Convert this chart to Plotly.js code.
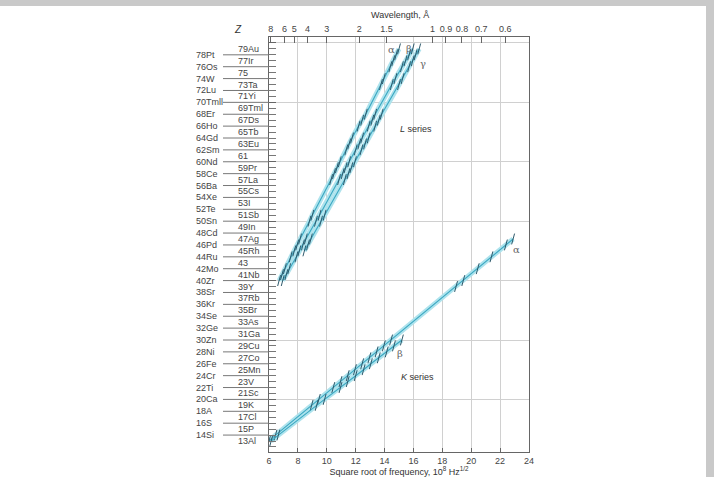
<!DOCTYPE html>
<html>
<head>
<meta charset="utf-8">
<script src="https://cdn.plot.ly/plotly-3.0.1.min.js"></script>
<style>
  html, body { margin:0; padding:0; background:#c9c9c9; width:714px; height:477px; overflow:hidden; }
  #chart { position:absolute; left:0; top:6px; width:706px; height:471px; background:#fff; }
</style>
</head>
<body>
<div id="chart"></div>
<script>
// ---- K series (Z, sqrt frequency in 1e8 Hz^1/2) ----
const kAlphaZ = [13,14,19,20,22,23,24,25,26,27,28,29,30,39,40,42,44,46,47];
const kAlphaX = [6.0,6.45,8.95,9.45,10.45,10.95,11.45,11.95,12.45,12.95,13.45,13.95,14.45,18.95,19.45,20.45,21.4,22.4,22.9];
const kBetaZ  = [13,14,19,20,22,23,24,25,26,27,28,29,30];
const kBetaX  = [6.15,6.65,9.3,9.85,10.95,11.45,12.0,12.55,13.05,13.6,14.15,14.65,15.2];

// ---- L series ----
const lZ = [40,41,42,44,45,46,47,50,51,57,58,59,60,62,63,64,66,67,68,73,74,76,77,78,79];
const lAlphaX = [6.7,6.9,7.1,7.5,7.75,7.95,8.15,8.8,9.0,10.3,10.5,10.7,10.9,11.35,11.55,11.75,12.2,12.45,12.7,13.75,13.95,14.4,14.6,14.8,15.0];
const lBetaX  = [6.95,7.2,7.4,7.9,8.1,8.35,8.55,9.25,9.5,10.85,11.1,11.3,11.55,12.0,12.25,12.45,12.9,13.15,13.35,14.5,14.75,15.2,15.45,15.7,15.95];
const lGammaZ = [45,46,47,50,51,57,58,59,60,62,63,64,66,67,68,73,74,76,77,78,79];
const lGammaX = [8.45,8.7,8.9,9.6,9.85,11.25,11.5,11.7,11.95,12.4,12.65,12.9,13.35,13.6,13.8,15.0,15.25,15.7,15.95,16.15,16.4];

// ---- Element labels ----
const evenLabels = ["78Pt","76Os","74W","72Lu","70Tmll","68Er","66Ho","64Gd","62Sm","60Nd","58Ce","56Ba","54Xe","52Te","50Sn","48Cd","46Pd","44Ru","42Mo","40Zr","38Sr","36Kr","34Se","32Ge","30Zn","28Ni","26Fe","24Cr","22Ti","20Ca","18A","16S","14Si"];
const oddLabels = ["79Au","77Ir","75","73Ta","71Yi","69Tml","67Ds","65Tb","63Eu","61","59Pr","57La","55Cs","53I","51Sb","49In","47Ag","45Rh","43","41Nb","39Y","37Rb","35Br","33As","31Ga","29Cu","27Co","25Mn","23V","21Sc","19K","17Cl","15P","13Al"];

// ---- Top axis (wavelength, Å) ----
const wavelengths = [8,6,5,4,3,2,1.5,1,0.9,0.8,0.7,0.6];
const wavelengthText = ["8","6","5","4","3","2","1.5","1","0.9","0.8","0.7","0.6"];

const FONT = "Liberation Sans, Arial, sans-serif";
const bandColor = "#aee3ed";
const coreColor = "#3aa8c2";
const tickMarkColor = "#2f5a6c";

const series = [
  [kAlphaX, kAlphaZ], [kBetaX, kBetaZ],
  [lAlphaX, lZ], [lBetaX, lZ], [lGammaX, lGammaZ]
];

const traces = [];
series.forEach(([x, z]) => {
  traces.push({x: x, y: z, type: "scatter", mode: "lines", hoverinfo: "skip",
    line: {color: bandColor, width: 5}, showlegend: false});
});
series.forEach(([x, z]) => {
  traces.push({x: x, y: z, type: "scatter", mode: "lines+markers", hoverinfo: "skip",
    line: {color: coreColor, width: 1.1}, showlegend: false,
    marker: {symbol: "line-ns", size: 8, angle: 15, color: tickMarkColor,
             line: {color: tickMarkColor, width: 1}}});
});
// invisible trace for top axis
traces.push({x: [6, 24], y: [20, 20], xaxis: "x2", yaxis: "y", mode: "markers",
  marker: {opacity: 0}, hoverinfo: "skip", showlegend: false});

const annotations = [];
const shapes = [];
const lx = (px) => (px - 269) / 260;
const ly = (py) => (452 - py) / 415;
evenLabels.forEach(t => {
  const z = parseInt(t);
  annotations.push({text: t, xref: "paper", yref: "y", x: lx(194), y: z, xanchor: "left", yanchor: "middle",
    showarrow: false, font: {family: FONT, size: 9, color: "#444"}});
  shapes.push({type: "line", xref: "paper", yref: "y", x0: lx(223), x1: 0, y0: z, y1: z,
    line: {color: "#777", width: 1}});
});
oddLabels.forEach(t => {
  const z = parseInt(t);
  annotations.push({text: t, xref: "paper", yref: "y", x: lx(236), y: z, xanchor: "left", yanchor: "middle",
    showarrow: false, font: {family: FONT, size: 9, color: "#444"}});
});

const greek = {family: "DejaVu Serif, serif", size: 10, color: "#666"};
const txt = {family: FONT, size: 9, color: "#333"};
annotations.push(
  {text: "Wavelength, Å", xref: "paper", yref: "paper", x: lx(400), y: ly(15), xanchor: "center", yanchor: "middle",
   showarrow: false, font: txt},
  {text: "<i>Z</i>", xref: "paper", yref: "paper", x: lx(238), y: ly(29), xanchor: "center", yanchor: "middle",
   showarrow: false, font: {family: FONT, size: 10, color: "#333"}},
  {text: "<i>L</i> series", x: 16.2, y: 65.5, xanchor: "center", yanchor: "middle", showarrow: false, font: txt},
  {text: "<i>K</i> series", x: 16.25, y: 23.8, xanchor: "center", yanchor: "middle", showarrow: false, font: txt},
  {text: "α", x: 23.15, y: 45.3, xanchor: "center", yanchor: "middle", showarrow: false, font: greek},
  {text: "β", x: 15.08, y: 27.8, xanchor: "center", yanchor: "middle", showarrow: false, font: greek},
  {text: "α", x: 14.5, y: 78.9, xanchor: "center", yanchor: "middle", showarrow: false, font: greek},
  {text: "β", x: 15.7, y: 79.1, xanchor: "center", yanchor: "middle", showarrow: false, font: greek},
  {text: "γ", x: 16.65, y: 76.5, xanchor: "center", yanchor: "middle", showarrow: false, font: greek}
);

const layout = {
  width: 706, height: 471,
  margin: {l: 269, r: 177, t: 31, b: 25},
  paper_bgcolor: "#fff", plot_bgcolor: "#fff",
  showlegend: false,
  font: {family: FONT, size: 9, color: "#444"},
  xaxis: {range: [6, 24], tickmode: "linear", tick0: 6, dtick: 2, ticks: "inside", ticklen: 4,
    tickcolor: "#666", showgrid: true, gridcolor: "#d0d0d0", gridwidth: 1, zeroline: false,
    showline: true, linecolor: "#666", linewidth: 1, mirror: true, automargin: false,
    tickfont: {family: FONT, size: 9, color: "#444"},
    title: {text: "Square root of frequency, 10<sup>8</sup> Hz<sup>1/2</sup>", standoff: 6,
            font: {family: FONT, size: 9, color: "#333"}}},
  xaxis2: {overlaying: "x", side: "top", range: [6, 24], tickmode: "array",
    tickvals: wavelengths.map(l => Math.sqrt(299.8 / l)), ticktext: wavelengthText,
    ticks: "inside", ticklen: 6, tickcolor: "#666", showgrid: false, zeroline: false,
    showline: true, linecolor: "#666", tickfont: {family: FONT, size: 9, color: "#444"}},
  yaxis: {range: [11.15, 81], tickmode: "linear", tick0: 0, dtick: 10, showticklabels: false,
    ticks: "inside", ticklen: 7, tickcolor: "#666", showgrid: true, gridcolor: "#d0d0d0",
    zeroline: false, showline: true, linecolor: "#666", mirror: true,
    minor: {dtick: 1, ticks: "inside", ticklen: 7, tickcolor: "#777", showgrid: false}},
  annotations: annotations,
  shapes: shapes
};

Plotly.newPlot("chart", traces, layout, {staticPlot: true, displayModeBar: false});
</script>
</body>
</html>
